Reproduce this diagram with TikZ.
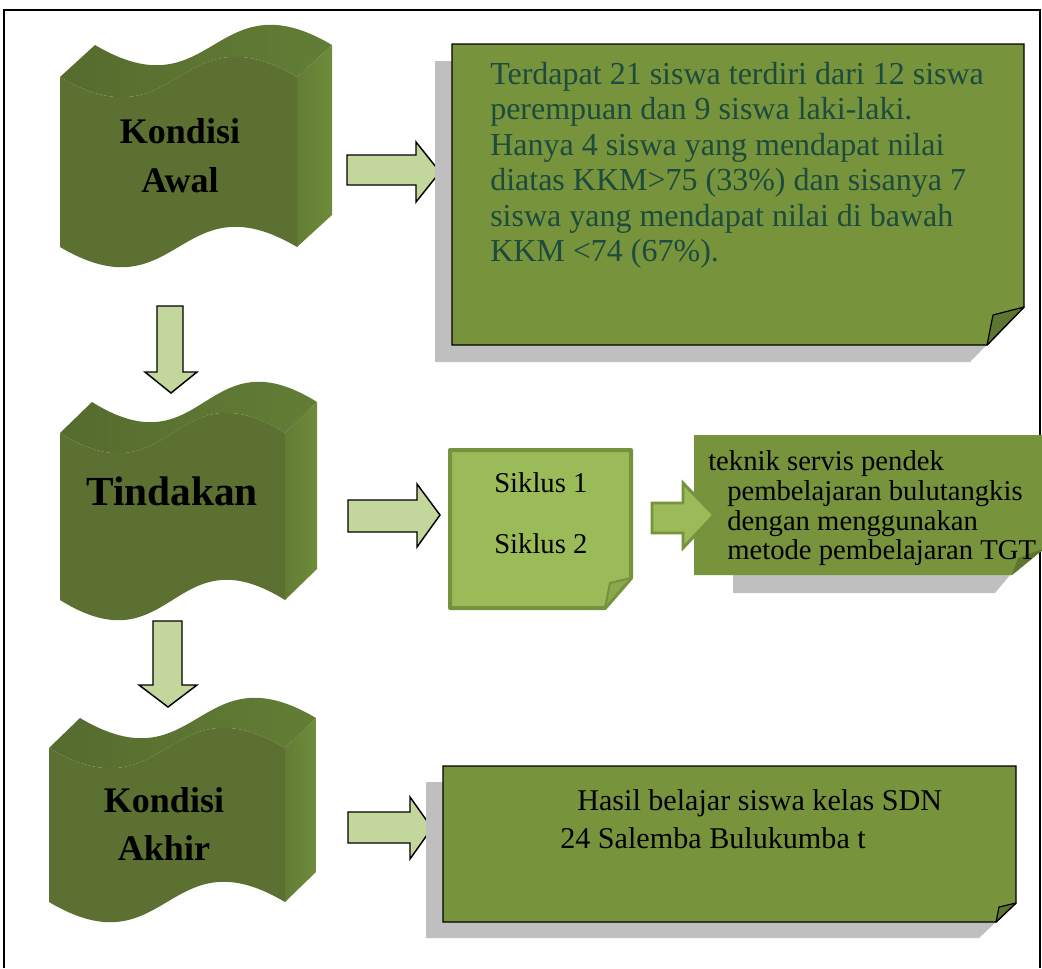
\documentclass[tikz,border=0pt]{standalone}
\usepackage{fontspec}
\setmainfont{Liberation Serif}
\definecolor{wfront}{HTML}{5B7031}
\definecolor{wtopA}{HTML}{566B2F}
\definecolor{wtopB}{HTML}{455625}
\definecolor{wtopC}{HTML}{627E35}
\definecolor{wsideA}{HTML}{627D34}
\definecolor{wsideB}{HTML}{6E8C3B}
\definecolor{arrowfill}{HTML}{C3D69B}
\definecolor{boxfill}{HTML}{77933C}
\definecolor{foldfill}{HTML}{5E7530}
\definecolor{shadowgray}{HTML}{BFBFBF}
\definecolor{sikfill}{HTML}{9BBB59}
\definecolor{sikdraw}{HTML}{76923C}
\definecolor{sikfold}{HTML}{8AA84E}
\definecolor{tealtext}{HTML}{1D4B3E}
\newcommand\wavesolid[6]{%
  \pgfmathsetmacro\wL{#1}\pgfmathsetmacro\wT{#2}\pgfmathsetmacro\wR{#3}%
  \pgfmathsetmacro\wB{#2+#4}\pgfmathsetmacro\wM{(#1+#3)/2}%
  \pgfmathsetmacro\wdx{#5}\pgfmathsetmacro\wdy{#6}\def\wk{70}%
  \shade[left color=wtopA, middle color=wtopB, right color=wtopC]
    (\wL,\wT) .. controls (\wM,\wT+\wk) and (\wM,\wT-\wk) .. (\wR,\wT)
    -- (\wR+\wdx,\wT+\wdy)
    .. controls (\wM+\wdx,\wT+\wdy-\wk) and (\wM+\wdx,\wT+\wdy+\wk) .. (\wL+\wdx,\wT+\wdy) -- cycle;
  \shade[left color=wsideA, right color=wsideB]
    (\wR,\wT) -- (\wR+\wdx,\wT+\wdy) -- (\wR+\wdx,\wB+\wdy) -- (\wR,\wB) -- cycle;
  \fill[wfront] (\wL,\wT) .. controls (\wM,\wT+\wk) and (\wM,\wT-\wk) .. (\wR,\wT)
    -- (\wR,\wB) .. controls (\wM,\wB-\wk) and (\wM,\wB+\wk) .. (\wL,\wB) -- cycle;
}
\tikzset{
  blockarrow/.style={fill=arrowfill, draw=black, line width=1.1pt, line join=miter},
  notebox/.style={fill=boxfill, draw=black, line width=1.1pt},
  fold/.style={fill=foldfill, draw=black, line width=0.9pt, line join=round},
  shadowfill/.style={fill=shadowgray},
  lbl/.style={font=\fontsize{27}{32}\selectfont\bfseries, inner sep=0pt, anchor=base},
  bigtxt/.style={font=\fontsize{24}{28}\selectfont, text=tealtext, inner sep=0pt, anchor=base west},
  midtxt/.style={font=\fontsize{21.5}{25}\selectfont, inner sep=0pt, anchor=base west},
  hastxt/.style={font=\fontsize{22.6}{27}\selectfont, inner sep=0pt, anchor=base west},
}
\begin{document}
\begin{tikzpicture}[x=0.75pt,y=-0.75pt]
\useasboundingbox (0,0) rectangle (1042,968);
% frame
\draw[line width=1.1pt] (4,968) -- (4,10) -- (1040,10) -- (1040,968);

% wave solids
\wavesolid{60}{77}{297}{170}{35}{-32}
\wavesolid{60}{433}{285}{167}{32}{-31}
\wavesolid{49}{748}{285}{154}{31}{-30}

\node[lbl] (k1) at (180,143) {Kondisi};
\node[lbl] (k2) at (180,192) {Awal};
\node[lbl, font=\fontsize{31}{36}\selectfont\bfseries] (td) at (172,505) {Tindakan};
\node[lbl] (a1) at (164,812) {Kondisi};
\node[lbl] (a2) at (164,860) {Akhir};

% down arrows
\draw[blockarrow] (157,306) -- (183,306) -- (183,372) -- (197,372) -- (171,393) -- (145,372) -- (157,372) -- cycle;
\draw[blockarrow] (153,621) -- (182,621) -- (182,685) -- (197,685) -- (168,707) -- (139,685) -- (153,685) -- cycle;

% right arrows
\draw[blockarrow] (347,155) -- (416,155) -- (416,142) -- (440,172) -- (416,202) -- (416,185) -- (347,185) -- cycle;
\draw[blockarrow] (348,500) -- (417,500) -- (417,484) -- (440,515) -- (417,547) -- (417,532) -- (348,532) -- cycle;
\draw[blockarrow] (348,812) -- (410,812) -- (410,797) -- (432,828) -- (410,859) -- (410,843) -- (348,843) -- cycle;

% box 1
\fill[shadowfill] (435,61) -- (1007,61) -- (1007,324) -- (970,362) -- (435,362) -- cycle;
\draw[notebox] (452,44) -- (1024,44) -- (1024,307) -- (987,345) -- (452,345) -- cycle;
\draw[fold] (987,345) -- (993,315) -- (1024,307) -- cycle;
\node[bigtxt] (b1a) at (490,84) {Terdapat 21 siswa terdiri dari 12 siswa};
\node[bigtxt] (b1b) at (490,119.5) {perempuan dan 9 siswa laki-laki.};
\node[bigtxt] (b1c) at (490,155) {Hanya 4 siswa yang mendapat nilai};
\node[bigtxt] (b1d) at (490,190.5) {diatas KKM>75 (33\%) dan sisanya 7};
\node[bigtxt] (b1e) at (490,226) {siswa yang mendapat nilai di bawah};
\node[bigtxt] (b1f) at (490,261.5) {KKM <74 (67\%).};

% siklus box
\draw[fill=sikfill, draw=sikdraw, line width=3pt, line join=round] (450,450) -- (631,450) -- (631,578) -- (605,608) -- (450,608) -- cycle;
\draw[fill=sikfold, draw=sikdraw, line width=1.5pt, line join=round] (605,608) -- (610,583) -- (631,578) -- cycle;
\node[midtxt] (s1) at (494,492) {Siklus 1};
\node[midtxt] (s2) at (494,553) {Siklus 2};

% teknik box
\fill[shadowfill] (733,545) -- (1010,545) -- (1010,575) -- (995,593) -- (733,593) -- cycle;
\fill[boxfill] (694,435) -- (1045,435) -- (1045,548) -- (1012,575) -- (694,575) -- cycle;
\fill[foldfill] (1012,575) -- (1018,558) -- (1045,548) -- cycle;
\draw[fill=sikfill, draw=sikdraw, line width=2.2pt, line join=miter] (652,503) -- (683,503) -- (683,483) -- (714,515) -- (683,548) -- (683,533) -- (652,533) -- cycle;
\node[midtxt] (t1) at (708,470) {teknik servis pendek};
\node[midtxt] (t2) at (727,500) {pembelajaran bulutangkis};
\node[midtxt] (t3) at (727,530) {dengan menggunakan};
\node[midtxt] (t4) at (727,559) {metode pembelajaran TGT};

% box 3
\fill[shadowfill] (426,782) -- (999,782) -- (999,919) -- (979,938) -- (426,938) -- cycle;
\draw[notebox] (443,766) -- (1016,766) -- (1016,903) -- (996,922) -- (443,922) -- cycle;
\draw[fold] (996,922) -- (999,907) -- (1016,903) -- cycle;
\node[hastxt] (h1) at (577,810) {Hasil belajar siswa kelas SDN};
\node[hastxt] (h2) at (560,848) {24 Salemba Bulukumba t};
\end{tikzpicture}
\end{document}
